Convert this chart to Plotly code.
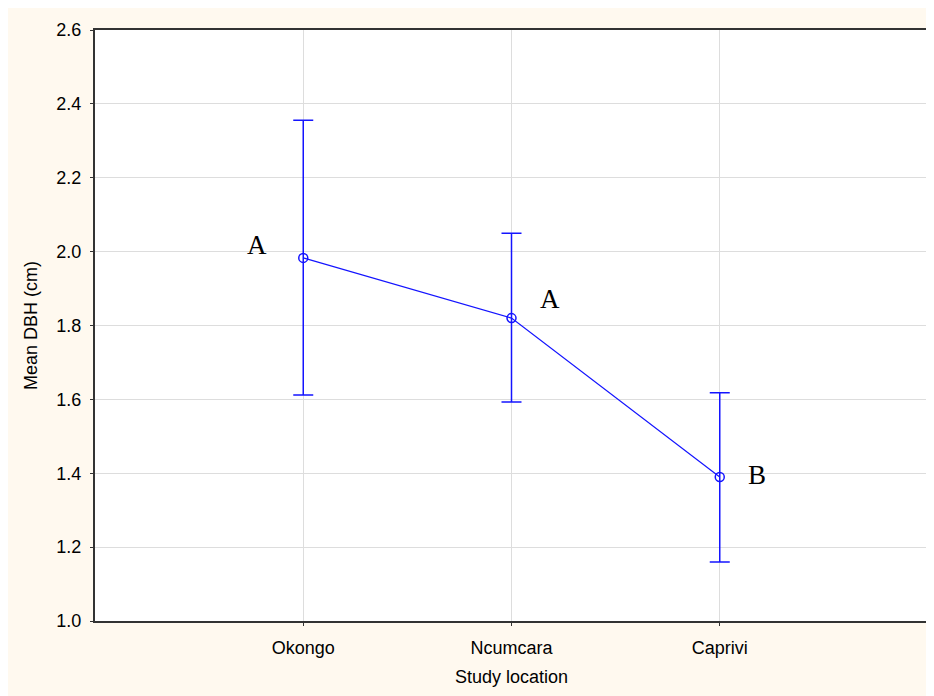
import plotly.graph_objects as go

categories = ["Okongo", "Ncumcara", "Caprivi"]
means = [1.983, 1.820, 1.390]
upper = [2.356, 2.050, 1.618]
lower = [1.612, 1.593, 1.160]
letters = ["A", "A", "B"]
y_ticks = [1.0, 1.2, 1.4, 1.6, 1.8, 2.0, 2.2, 2.4, 2.6]

err_plus = [u - m for u, m in zip(upper, means)]
err_minus = [m - l for m, l in zip(means, lower)]

W, H = 926, 688
L, R, T, B = 87, 6, 22, 75
cream = "#FFF9EF"
blue = "#1414FF"
sans = "Liberation Sans, Arial, sans-serif"

fig = go.Figure()
fig.add_trace(go.Scatter(
    x=categories, y=means, mode="lines+markers",
    line=dict(color=blue, width=1.2),
    marker=dict(symbol="circle-open", size=9, color=blue, line=dict(width=1.5)),
    error_y=dict(type="data", symmetric=False, array=err_plus, arrayminus=err_minus,
                 color=blue, thickness=1.5, width=10),
    showlegend=False,
))

# letter annotations (offsets relative to each category)
letter_dx = [-0.22, 0.185, 0.18]
letter_dy = [0.035, 0.052, 0.005]
for i, (lab, m) in enumerate(zip(letters, means)):
    fig.add_annotation(x=i + letter_dx[i], y=m + letter_dy[i], text=lab, showarrow=False,
                       font=dict(family="Liberation Serif, Times New Roman, serif", size=27, color="black"),
                       xref="x", yref="y")

axis_common = dict(showline=True, linecolor="#333333", linewidth=2, mirror=True,
                   ticks="outside", ticklen=3, tickcolor="#333333",
                   showgrid=True, gridcolor="#DDDDDD", gridwidth=1, zeroline=False,
                   tickfont=dict(family=sans, size=18, color="black"),
                   title_font=dict(family=sans, size=18, color="black"))

fig.update_xaxes(type="category", range=[-1, 3], title_text="Study location",
                 title_standoff=14, ticklabelstandoff=6, **axis_common)
fig.update_yaxes(range=[1.0, 2.6], tickvals=y_ticks, ticktext=[f"{v:.1f}" for v in y_ticks],
                 title_text="Mean DBH (cm)", title_standoff=14, ticklabelstandoff=5, **axis_common)

fig.update_layout(width=W, height=H, margin=dict(l=L, r=R, t=T, b=B, autoexpand=False),
                  paper_bgcolor=cream, plot_bgcolor="white",
                  font=dict(family=sans, size=18, color="black"))

fig.write_html("out.html")
